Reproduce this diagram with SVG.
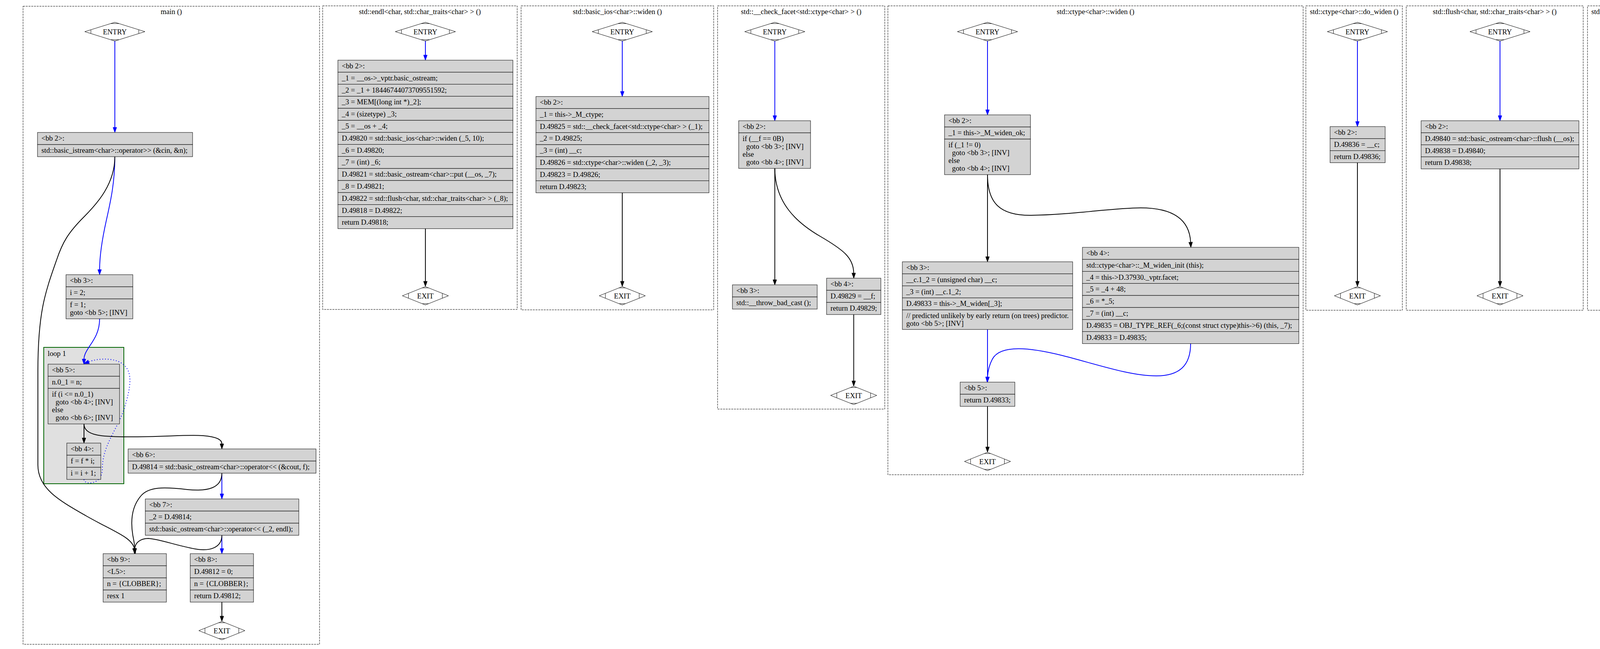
<svg xmlns="http://www.w3.org/2000/svg" xmlns:xlink="http://www.w3.org/1999/xlink" width="5552" height="1661" viewBox="0 0 5552 1661">
<style>
text{font-family:"Liberation Serif","Times New Roman",serif;font-size:18.67px;fill:#000}
.c{text-anchor:middle}
.cl{fill:none;stroke:#000;stroke-width:1;stroke-dasharray:5,2}
.lp{fill:#e0e0e0;stroke:#006400;stroke-width:2}
.r{fill:#d3d3d3;stroke:#000;stroke-width:1}
.md{fill:#fff;stroke:#000;stroke-width:1}
.mk{stroke:#000;stroke-width:1}
.e{fill:none;stroke-width:2}
.b{stroke:#0000ff;marker-end:url(#ab)}
.k{stroke:#000;marker-end:url(#ak)}
.d{stroke-dasharray:2,5}
</style>
<defs>
<marker id="ab" markerUnits="userSpaceOnUse" markerWidth="14" markerHeight="10" viewBox="0 0 14 10" refX="0" refY="5" orient="auto" overflow="visible"><path d="M0,0.3 L13.3,5 L0,9.7 Z" fill="#0000ff" stroke="#0000ff" stroke-width="1"/></marker>
<marker id="ak" markerUnits="userSpaceOnUse" markerWidth="14" markerHeight="10" viewBox="0 0 14 10" refX="0" refY="5" orient="auto" overflow="visible"><path d="M0,0.3 L13.3,5 L0,9.7 Z" fill="#000" stroke="#000" stroke-width="1"/></marker>
<g id="dEntry"><polygon class="md" points="-77,0 0,-24 77,0 0,24"/><path class="mk" d="M-10.5,-20.7 L10.5,-20.7 M-10.5,20.7 L10.5,20.7 M-61.3,-4.9 L-61.3,4.9 M61.3,-4.9 L61.3,4.9"/></g>
<g id="dExit"><polygon class="md" points="-59,0 0,-23.5 59,0 0,23.5"/><path class="mk" d="M-8.3,-20.2 L8.3,-20.2 M-8.3,20.2 L8.3,20.2 M-43.3,-6.2 L-43.3,6.2 M43.3,-6.2 L43.3,6.2"/></g>
</defs>
<rect width="5552" height="1661" fill="#fff"/>

<g id="clusters">
<g id="cl_main"><rect class="cl" x="59" y="16" width="759" height="1633"/><text class="c" x="438.5" y="36">main ()</text></g>
<g id="cl_endl"><rect class="cl" x="826" y="15" width="498" height="777"/><text class="c" x="1075" y="36">std::endl&lt;char, std::char_traits&lt;char&gt; &gt; ()</text></g>
<g id="cl_bioswiden"><rect class="cl" x="1334" y="15" width="493" height="778"/><text class="c" x="1580.5" y="36">std::basic_ios&lt;char&gt;::widen ()</text></g>
<g id="cl_ckfacet"><rect class="cl" x="1837" y="15" width="428" height="1032"/><text class="c" x="2051" y="36">std::__check_facet&lt;std::ctype&lt;char&gt; &gt; ()</text></g>
<g id="cl_ctwiden"><rect class="cl" x="2273" y="15" width="1063" height="1200"/><text class="c" x="2804.5" y="36">std::ctype&lt;char&gt;::widen ()</text></g>
<g id="cl_dowiden"><rect class="cl" x="3343" y="15" width="247" height="779"/><text class="c" x="3466.5" y="36">std::ctype&lt;char&gt;::do_widen ()</text></g>
<g id="cl_flush"><rect class="cl" x="3600" y="15" width="453" height="779"/><text class="c" x="3826.5" y="36">std::flush&lt;char, std::char_traits&lt;char&gt; &gt; ()</text></g>
<g id="cl_oplt"><rect class="cl" x="4064" y="15" width="320" height="779"/><text class="c" x="4225" y="36">std::basic_ostream&lt;char&gt;::operator&lt;&lt; ()</text></g>
<g id="cl_global"><rect class="cl" x="4396" y="15" width="464" height="779"/><text class="c" x="4628" y="36">_GLOBAL__sub_I_main ()</text></g>
<g id="cl_static"><rect class="cl" x="4870" y="15" width="640" height="1343"/><text class="c" x="5191" y="36">__static_initialization_and_destruction_0 ()</text></g>
<g id="cl_loop1"><rect class="lp" x="112" y="889" width="205" height="349"/><text x="122" y="911">loop 1</text></g>
</g>

<g id="edges">
<path class="e b" d="M294,105 L294,326"/>
<path class="e b" d="M294,401 C294,470 282,520 272,565 C262,610 255,650 255,690"/>
<path class="e k" d="M294,401 C294,470 250,520 215,555 C175,595 160,620 145,665 C115,750 97,800 97,950 L97,1190 C97,1250 150,1280 220,1320 C290,1360 338,1375 344,1404"/>
<path class="e b" d="M255,816 C255,850 240,870 228,888 C219,902 215,910 215,919"/>
<path class="e b d" d="M215,1227 C215,1242 262,1242 262,1200 C262,1140 300,1100 318,1046 C335,990 342,950 312,930 C290,915 250,917 227,926"/>
<path class="e k" d="M215,1085 L215,1121"/>
<path class="e k" d="M215,1085 C215,1115 260,1118 330,1118 C420,1118 480,1112 520,1115 C555,1118 568,1125 568,1136"/>
<path class="e b" d="M568,1211 L568,1264"/>
<path class="e k" d="M568,1211 C568,1250 530,1258 480,1253 C420,1246 380,1245 360,1270 C335,1300 335,1340 340,1370 C343,1385 345,1395 345,1404"/>
<path class="e b" d="M568,1370 L568,1404"/>
<path class="e k" d="M568,1370 C568,1400 540,1412 500,1405 C450,1396 410,1380 380,1378 C358,1378 346,1390 345,1404"/>
<path class="e k" d="M568,1541 L568,1577"/>
<path class="e b" d="M1089,105 L1089,141"/>
<path class="e k" d="M1089,585 L1089,720"/>
<path class="e b" d="M1593,105 L1593,234"/>
<path class="e k" d="M1593,493 L1593,720"/>
<path class="e b" d="M1983.5,105 L1983.5,296"/>
<path class="e k" d="M1983.5,431 L1983.5,716"/>
<path class="e k" d="M1983.5,431 C1984,520 2040,570 2100,605 C2160,640 2185,660 2185.5,699"/>
<path class="e k" d="M2185.5,805 L2185.5,975"/>
<path class="e b" d="M2528,105 L2528,281"/>
<path class="e k" d="M2528,447 L2528,657"/>
<path class="e k" d="M2528,447 C2528,520 2560,552 2640,551 C2740,550 2850,532 2920,532 C3000,532 3045,560 3048,620"/>
<path class="e b" d="M2528,843 L2528,965"/>
<path class="e b" d="M3048,879 C3048,935 3020,962 2960,962 C2890,962 2800,930 2720,910 C2640,890 2560,880 2540,920 C2532,935 2529,950 2528,965"/>
<path class="e k" d="M2528,1040 L2528,1144"/>
<path class="e b" d="M3475,105 L3475,311"/>
<path class="e k" d="M3475,416 L3475,720"/>
<path class="e b" d="M3840,105 L3840,296"/>
<path class="e k" d="M3840,432 L3840,720"/>
<path class="e b" d="M4241,105 L4241,280"/>
<path class="e k" d="M4241,447 L4241,720"/>
<path class="e b" d="M4641,105 L4641,311"/>
<path class="e k" d="M4641,416 L4641,720"/>
<path class="e b" d="M5375.5,105 L5375.5,297"/>
<path class="e k" d="M5375.5,432 L5374,682"/>
<path class="e k" d="M5375.5,432 C5377,490 5420,540 5455,575 C5490,610 5500,680 5520,750 C5540,820 5552,880 5547,940 C5542,1010 5500,1080 5440,1110 C5410,1120 5390,1121 5370,1121 C5300,1122 5240,1095 5205,1100 C5185,1105 5177,1120 5176.5,1137"/>
<path class="e k" d="M5373.5,817 C5373,870 5320,880 5260,888 C5210,895 5180,915 5177,950"/>
<path class="e k" d="M5373.5,817 C5375,850 5410,858 5440,870 C5470,885 5474,940 5473,990 C5472,1060 5460,1105 5400,1118 C5390,1120 5380,1121 5370,1121 C5300,1122 5240,1095 5205,1100 C5185,1105 5177,1120 5176.5,1137"/>
<path class="e b" d="M5176.5,1055 L5176.5,1137"/>
<path class="e k" d="M5176.5,1212 L5176.5,1286"/>
</g>

<g id="main_entry"><use xlink:href="#dEntry" x="294" y="81"/><text class="c" x="294" y="87.5">ENTRY</text></g>
<g id="main_bb2"><rect class="r" x="96" y="339" width="397" height="31"/><rect class="r" x="96" y="370" width="397" height="31"/>
<text x="106" y="360">&lt;bb 2&gt;:</text><text x="106" y="391">std::basic_istream&lt;char&gt;::operator&gt;&gt; (&amp;cin, &amp;n);</text></g>
<g id="main_bb3"><rect class="r" x="169" y="703" width="171" height="31"/><rect class="r" x="169" y="734" width="171" height="31"/><rect class="r" x="169" y="765" width="171" height="51"/>
<text x="179" y="724">&lt;bb 3&gt;:</text><text x="179" y="755">i = 2;</text><text x="179" y="786">f = 1;</text><text x="179" y="806">goto &lt;bb 5&gt;; [INV]</text></g>
<g id="main_bb5"><rect class="r" x="123" y="932" width="183" height="31"/><rect class="r" x="123" y="963" width="183" height="31"/><rect class="r" x="123" y="994" width="183" height="91"/>
<text x="133" y="953">&lt;bb 5&gt;:</text><text x="133" y="984">n.0_1 = n;</text><text x="133" y="1015">if (i &lt;= n.0_1)</text><text x="133" y="1035">&#160;&#160;goto &lt;bb 4&gt;; [INV]</text><text x="133" y="1055">else</text><text x="133" y="1075">&#160;&#160;goto &lt;bb 6&gt;; [INV]</text></g>
<g id="main_bb4"><rect class="r" x="171" y="1134" width="87" height="31"/><rect class="r" x="171" y="1165" width="87" height="31"/><rect class="r" x="171" y="1196" width="87" height="31"/>
<text x="181" y="1155">&lt;bb 4&gt;:</text><text x="181" y="1186">f = f * i;</text><text x="181" y="1217">i = i + 1;</text></g>
<g id="main_bb6"><rect class="r" x="328" y="1149" width="481" height="31"/><rect class="r" x="328" y="1180" width="481" height="31"/>
<text x="338" y="1170">&lt;bb 6&gt;:</text><text x="338" y="1201">D.49814 = std::basic_ostream&lt;char&gt;::operator&lt;&lt; (&amp;cout, f);</text></g>
<g id="main_bb7"><rect class="r" x="372" y="1277" width="393" height="31"/><rect class="r" x="372" y="1308" width="393" height="31"/><rect class="r" x="372" y="1339" width="393" height="31"/>
<text x="382" y="1298">&lt;bb 7&gt;:</text><text x="382" y="1329">_2 = D.49814;</text><text x="382" y="1360">std::basic_ostream&lt;char&gt;::operator&lt;&lt; (_2, endl);</text></g>
<g id="main_bb9"><rect class="r" x="264" y="1417" width="162" height="31"/><rect class="r" x="264" y="1448" width="162" height="31"/><rect class="r" x="264" y="1479" width="162" height="31"/><rect class="r" x="264" y="1510" width="162" height="31"/>
<text x="274" y="1438">&lt;bb 9&gt;:</text><text x="274" y="1469">&lt;L5&gt;:</text><text x="274" y="1500">n = {CLOBBER};</text><text x="274" y="1531">resx 1</text></g>
<g id="main_bb8"><rect class="r" x="487" y="1417" width="162" height="31"/><rect class="r" x="487" y="1448" width="162" height="31"/><rect class="r" x="487" y="1479" width="162" height="31"/><rect class="r" x="487" y="1510" width="162" height="31"/>
<text x="497" y="1438">&lt;bb 8&gt;:</text><text x="497" y="1469">D.49812 = 0;</text><text x="497" y="1500">n = {CLOBBER};</text><text x="497" y="1531">return D.49812;</text></g>
<g id="main_exit"><use xlink:href="#dExit" x="568" y="1614"/><text class="c" x="568" y="1620.5">EXIT</text></g>

<g id="endl_entry"><use xlink:href="#dEntry" x="1089" y="81"/><text class="c" x="1089" y="87.5">ENTRY</text></g>
<g id="endl_bb2">
<rect class="r" x="865" y="154" width="448" height="30.8"/><rect class="r" x="865" y="184.8" width="448" height="30.8"/><rect class="r" x="865" y="215.6" width="448" height="30.8"/><rect class="r" x="865" y="246.4" width="448" height="30.8"/><rect class="r" x="865" y="277.2" width="448" height="30.8"/><rect class="r" x="865" y="308" width="448" height="30.8"/><rect class="r" x="865" y="338.8" width="448" height="30.8"/><rect class="r" x="865" y="369.6" width="448" height="30.8"/><rect class="r" x="865" y="400.4" width="448" height="30.8"/><rect class="r" x="865" y="431.2" width="448" height="30.8"/><rect class="r" x="865" y="462" width="448" height="30.8"/><rect class="r" x="865" y="492.8" width="448" height="30.8"/><rect class="r" x="865" y="523.6" width="448" height="30.8"/><rect class="r" x="865" y="554.4" width="448" height="30.8"/>
<text x="875" y="175">&lt;bb 2&gt;:</text>
<text x="875" y="205.8">_1 = __os-&gt;_vptr.basic_ostream;</text>
<text x="875" y="236.6">_2 = _1 + 18446744073709551592;</text>
<text x="875" y="267.4">_3 = MEM[(long int *)_2];</text>
<text x="875" y="298.2">_4 = (sizetype) _3;</text>
<text x="875" y="329">_5 = __os + _4;</text>
<text x="875" y="359.8">D.49820 = std::basic_ios&lt;char&gt;::widen (_5, 10);</text>
<text x="875" y="390.6">_6 = D.49820;</text>
<text x="875" y="421.4">_7 = (int) _6;</text>
<text x="875" y="452.2">D.49821 = std::basic_ostream&lt;char&gt;::put (__os, _7);</text>
<text x="875" y="483">_8 = D.49821;</text>
<text x="875" y="513.8">D.49822 = std::flush&lt;char, std::char_traits&lt;char&gt; &gt; (_8);</text>
<text x="875" y="544.6">D.49818 = D.49822;</text>
<text x="875" y="575.4">return D.49818;</text>
</g>
<g id="endl_exit"><use xlink:href="#dExit" x="1089" y="757"/><text class="c" x="1089" y="763.5">EXIT</text></g>

<g id="bioswiden_entry"><use xlink:href="#dEntry" x="1593" y="81"/><text class="c" x="1593" y="87.5">ENTRY</text></g>
<g id="bioswiden_bb2">
<rect class="r" x="1372" y="247" width="443" height="30.8"/><rect class="r" x="1372" y="277.8" width="443" height="30.8"/><rect class="r" x="1372" y="308.6" width="443" height="30.8"/><rect class="r" x="1372" y="339.4" width="443" height="30.8"/><rect class="r" x="1372" y="370.2" width="443" height="30.8"/><rect class="r" x="1372" y="401" width="443" height="30.8"/><rect class="r" x="1372" y="431.8" width="443" height="30.8"/><rect class="r" x="1372" y="462.6" width="443" height="30.8"/>
<text x="1382" y="268">&lt;bb 2&gt;:</text>
<text x="1382" y="298.8">_1 = this-&gt;_M_ctype;</text>
<text x="1382" y="329.6">D.49825 = std::__check_facet&lt;std::ctype&lt;char&gt; &gt; (_1);</text>
<text x="1382" y="360.4">_2 = D.49825;</text>
<text x="1382" y="391.2">_3 = (int) __c;</text>
<text x="1382" y="422">D.49826 = std::ctype&lt;char&gt;::widen (_2, _3);</text>
<text x="1382" y="452.8">D.49823 = D.49826;</text>
<text x="1382" y="483.6">return D.49823;</text>
</g>
<g id="bioswiden_exit"><use xlink:href="#dExit" x="1593" y="757"/><text class="c" x="1593" y="763.5">EXIT</text></g>

<g id="ckfacet_entry"><use xlink:href="#dEntry" x="1983.5" y="81"/><text class="c" x="1983.5" y="87.5">ENTRY</text></g>
<g id="ckfacet_bb2"><rect class="r" x="1891" y="309" width="184" height="31"/><rect class="r" x="1891" y="340" width="184" height="91"/>
<text x="1901" y="330">&lt;bb 2&gt;:</text><text x="1901" y="361">if (__f == 0B)</text><text x="1901" y="381">&#160;&#160;goto &lt;bb 3&gt;; [INV]</text><text x="1901" y="401">else</text><text x="1901" y="421">&#160;&#160;goto &lt;bb 4&gt;; [INV]</text></g>
<g id="ckfacet_bb3"><rect class="r" x="1875" y="729" width="217" height="31"/><rect class="r" x="1875" y="760" width="217" height="31"/>
<text x="1885" y="750">&lt;bb 3&gt;:</text><text x="1885" y="781">std::__throw_bad_cast ();</text></g>
<g id="ckfacet_bb4"><rect class="r" x="2116" y="712" width="139" height="31"/><rect class="r" x="2116" y="743" width="139" height="31"/><rect class="r" x="2116" y="774" width="139" height="31"/>
<text x="2126" y="733">&lt;bb 4&gt;:</text><text x="2126" y="764">D.49829 = __f;</text><text x="2126" y="795">return D.49829;</text></g>
<g id="ckfacet_exit"><use xlink:href="#dExit" x="2185.5" y="1012"/><text class="c" x="2185.5" y="1018.5">EXIT</text></g>

<g id="ctwiden_entry"><use xlink:href="#dEntry" x="2528" y="81"/><text class="c" x="2528" y="87.5">ENTRY</text></g>
<g id="ctwiden_bb2"><rect class="r" x="2418" y="294" width="220" height="31"/><rect class="r" x="2418" y="325" width="220" height="31"/><rect class="r" x="2418" y="356" width="220" height="91"/>
<text x="2428" y="315">&lt;bb 2&gt;:</text><text x="2428" y="346">_1 = this-&gt;_M_widen_ok;</text><text x="2428" y="377">if (_1 != 0)</text><text x="2428" y="397">&#160;&#160;goto &lt;bb 3&gt;; [INV]</text><text x="2428" y="417">else</text><text x="2428" y="437">&#160;&#160;goto &lt;bb 4&gt;; [INV]</text></g>
<g id="ctwiden_bb3"><rect class="r" x="2310" y="670" width="436" height="30.8"/><rect class="r" x="2310" y="700.8" width="436" height="30.8"/><rect class="r" x="2310" y="731.6" width="436" height="30.8"/><rect class="r" x="2310" y="762.4" width="436" height="30.8"/><rect class="r" x="2310" y="793.2" width="436" height="50"/>
<text x="2320" y="691">&lt;bb 3&gt;:</text><text x="2320" y="721.8">__c.1_2 = (unsigned char) __c;</text><text x="2320" y="752.6">_3 = (int) __c.1_2;</text><text x="2320" y="783.4">D.49833 = this-&gt;_M_widen[_3];</text><text x="2320" y="814.2">// predicted unlikely by early return (on trees) predictor.</text><text x="2320" y="834.2">goto &lt;bb 5&gt;; [INV]</text></g>
<g id="ctwiden_bb4">
<rect class="r" x="2771" y="633" width="554" height="30.8"/><rect class="r" x="2771" y="663.8" width="554" height="30.8"/><rect class="r" x="2771" y="694.6" width="554" height="30.8"/><rect class="r" x="2771" y="725.4" width="554" height="30.8"/><rect class="r" x="2771" y="756.2" width="554" height="30.8"/><rect class="r" x="2771" y="787" width="554" height="30.8"/><rect class="r" x="2771" y="817.8" width="554" height="30.8"/><rect class="r" x="2771" y="848.6" width="554" height="30.8"/>
<text x="2781" y="654">&lt;bb 4&gt;:</text>
<text x="2781" y="684.8">std::ctype&lt;char&gt;::_M_widen_init (this);</text>
<text x="2781" y="715.6">_4 = this-&gt;D.37930._vptr.facet;</text>
<text x="2781" y="746.4">_5 = _4 + 48;</text>
<text x="2781" y="777.2">_6 = *_5;</text>
<text x="2781" y="808">_7 = (int) __c;</text>
<text x="2781" y="838.8">D.49835 = OBJ_TYPE_REF(_6;(const struct ctype)this-&gt;6) (this, _7);</text>
<text x="2781" y="869.6">D.49833 = D.49835;</text>
</g>
<g id="ctwiden_bb5"><rect class="r" x="2458" y="978" width="140" height="31"/><rect class="r" x="2458" y="1009" width="140" height="31"/>
<text x="2468" y="999">&lt;bb 5&gt;:</text><text x="2468" y="1030">return D.49833;</text></g>
<g id="ctwiden_exit"><use xlink:href="#dExit" x="2528" y="1181"/><text class="c" x="2528" y="1187.5">EXIT</text></g>

<g id="dowiden_entry"><use xlink:href="#dEntry" x="3475" y="81"/><text class="c" x="3475" y="87.5">ENTRY</text></g>
<g id="dowiden_bb2"><rect class="r" x="3405" y="324" width="141" height="30.8"/><rect class="r" x="3405" y="354.8" width="141" height="30.8"/><rect class="r" x="3405" y="385.6" width="141" height="30.8"/>
<text x="3415" y="345">&lt;bb 2&gt;:</text><text x="3415" y="375.8">D.49836 = __c;</text><text x="3415" y="406.6">return D.49836;</text></g>
<g id="dowiden_exit"><use xlink:href="#dExit" x="3475" y="757"/><text class="c" x="3475" y="763.5">EXIT</text></g>

<g id="flush_entry"><use xlink:href="#dEntry" x="3840" y="81"/><text class="c" x="3840" y="87.5">ENTRY</text></g>
<g id="flush_bb2"><rect class="r" x="3638" y="309" width="404" height="30.8"/><rect class="r" x="3638" y="339.8" width="404" height="30.8"/><rect class="r" x="3638" y="370.6" width="404" height="30.8"/><rect class="r" x="3638" y="401.4" width="404" height="30.8"/>
<text x="3648" y="330">&lt;bb 2&gt;:</text><text x="3648" y="360.8">D.49840 = std::basic_ostream&lt;char&gt;::flush (__os);</text><text x="3648" y="391.6">D.49838 = D.49840;</text><text x="3648" y="422.4">return D.49838;</text></g>
<g id="flush_exit"><use xlink:href="#dExit" x="3840" y="757"/><text class="c" x="3840" y="763.5">EXIT</text></g>

<g id="oplt_entry"><use xlink:href="#dEntry" x="4241" y="81"/><text class="c" x="4241" y="87.5">ENTRY</text></g>
<g id="oplt_bb2"><rect class="r" x="4129" y="293" width="223" height="30.8"/><rect class="r" x="4129" y="323.8" width="223" height="30.8"/><rect class="r" x="4129" y="354.6" width="223" height="30.8"/><rect class="r" x="4129" y="385.4" width="223" height="30.8"/><rect class="r" x="4129" y="416.2" width="223" height="30.8"/>
<text x="4139" y="314">&lt;bb 2&gt;:</text><text x="4139" y="344.8">__pf.2_1 = __pf;</text><text x="4139" y="375.6">D.49843 = __pf.2_1 (this);</text><text x="4139" y="406.4">D.49841 = D.49843;</text><text x="4139" y="437.2">return D.49841;</text></g>
<g id="oplt_exit"><use xlink:href="#dExit" x="4241" y="757"/><text class="c" x="4241" y="763.5">EXIT</text></g>

<g id="global_entry"><use xlink:href="#dEntry" x="4641" y="81"/><text class="c" x="4641" y="87.5">ENTRY</text></g>
<g id="global_bb2"><rect class="r" x="4434" y="324" width="415" height="30.8"/><rect class="r" x="4434" y="354.8" width="415" height="30.8"/><rect class="r" x="4434" y="385.6" width="415" height="30.8"/>
<text x="4444" y="345">&lt;bb 2&gt;:</text><text x="4444" y="375.8">__static_initialization_and_destruction_0 (1, 65535);</text><text x="4444" y="406.6">return;</text></g>
<g id="global_exit"><use xlink:href="#dExit" x="4641" y="757"/><text class="c" x="4641" y="763.5">EXIT</text></g>

<g id="static_entry"><use xlink:href="#dEntry" x="5375.5" y="81"/><text class="c" x="5375.5" y="87.5">ENTRY</text></g>
<g id="static_bb2"><rect class="r" x="5281" y="310" width="189" height="31"/><rect class="r" x="5281" y="341" width="189" height="91"/>
<text x="5291" y="331">&lt;bb 2&gt;:</text><text x="5291" y="362">if (__initialize_p == 1)</text><text x="5291" y="382">&#160;&#160;goto &lt;bb 3&gt;; [INV]</text><text x="5291" y="402">else</text><text x="5291" y="422">&#160;&#160;goto &lt;bb 5&gt;; [INV]</text></g>
<g id="static_bb3"><rect class="r" x="5273" y="695" width="201" height="31"/><rect class="r" x="5273" y="726" width="201" height="91"/>
<text x="5283" y="716">&lt;bb 3&gt;:</text><text x="5283" y="747">if (__priority == 65535)</text><text x="5283" y="767">&#160;&#160;goto &lt;bb 4&gt;; [INV]</text><text x="5283" y="787">else</text><text x="5283" y="807">&#160;&#160;goto &lt;bb 5&gt;; [INV]</text></g>
<g id="static_bb4"><rect class="r" x="4906" y="963" width="541" height="30.8"/><rect class="r" x="4906" y="993.8" width="541" height="30.8"/><rect class="r" x="4906" y="1024.6" width="541" height="30.8"/>
<text x="4916" y="984">&lt;bb 4&gt;:</text><text x="4916" y="1014.8">std::ios_base::Init::Init (&amp;__ioinit);</text><text x="4916" y="1045.6">__cxxabiv1::__cxa_atexit (__dt_comp , &amp;__ioinit, &amp;__dso_handle);</text></g>
<g id="static_bb5"><rect class="r" x="5135" y="1150" width="83" height="31"/><rect class="r" x="5135" y="1181" width="83" height="31"/>
<text x="5145" y="1171">&lt;bb 5&gt;:</text><text x="5145" y="1202">return;</text></g>
<g id="static_exit"><use xlink:href="#dExit" x="5176.5" y="1323"/><text class="c" x="5176.5" y="1329.5">EXIT</text></g>
</svg>
